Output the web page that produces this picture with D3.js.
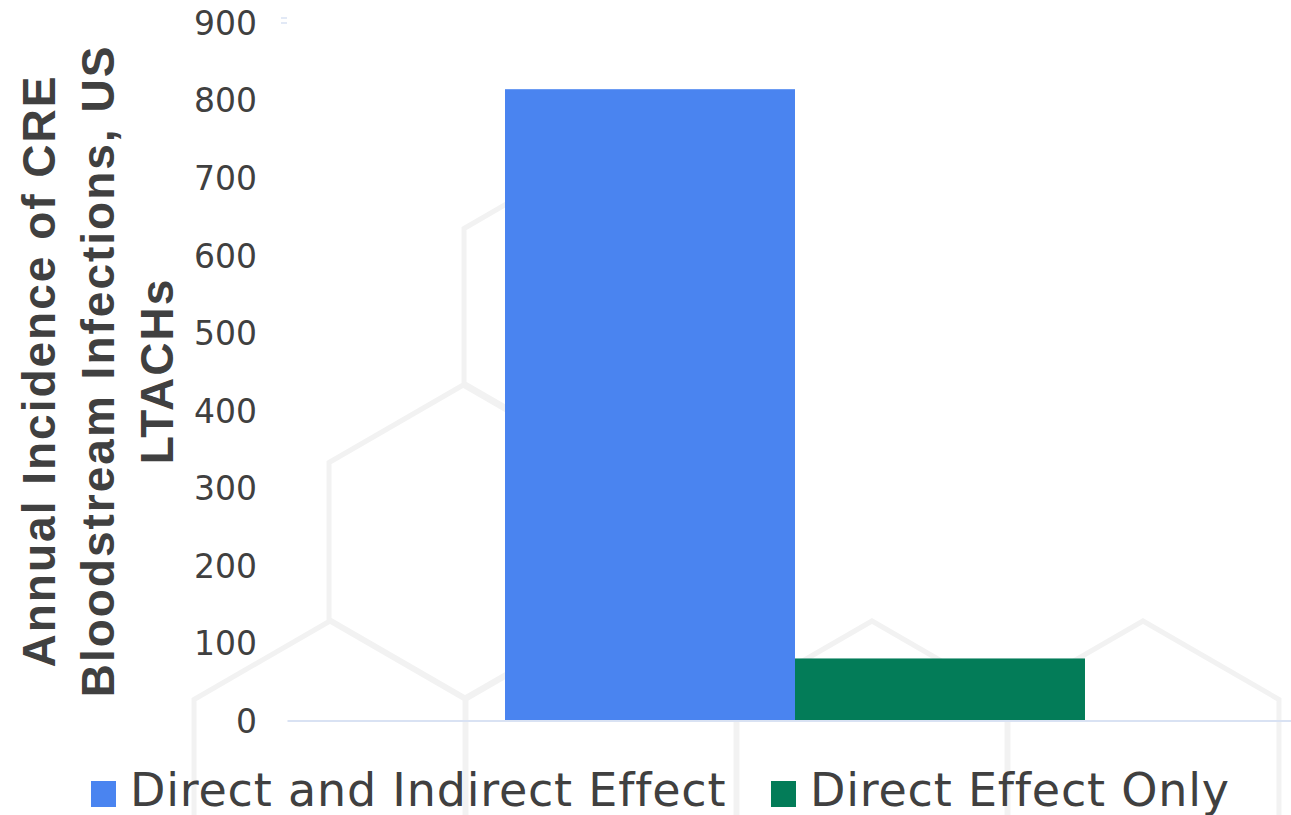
<!DOCTYPE html>
<html>
<head>
<meta charset="utf-8">
<script src="https://cdn.jsdelivr.net/npm/d3@7"></script>
<style>
  html, body { margin: 0; padding: 0; background: #ffffff; }
  svg { display: block; }
  .tickText { font-family: "DejaVu Sans", sans-serif; font-size: 33px; fill: #404040; }
  .axisTitle { font-family: "Liberation Sans", Arial, sans-serif; font-size: 46px; font-weight: bold; fill: #404040; letter-spacing: 2px; }
  .legendText { font-family: "DejaVu Sans", sans-serif; font-size: 46px; fill: #404040; letter-spacing: 0.8px; }
</style>
</head>
<body>
<div id="chart"></div>
<script>
// Chart data.
var categories = ["US LTACHs"];
var seriesNames = ["Direct and Indirect Effect", "Direct Effect Only"];
var seriesValues = [814, 80];
var seriesColors = ["#4a84f0", "#037c58"];
var yTicks = [0, 100, 200, 300, 400, 500, 600, 700, 800, 900];
var titleLines = ["Annual Incidence of CRE", "Bloodstream Infections, US", "LTACHs"];

// Define SVG area dimensions as the size of the window.
var svgWidth = 1291;
var svgHeight = 815;

// Plot area edges (the right one runs off the picture).
var plot = { left: 287, right: 1303, top: 22.5, bottom: 720.5 };

var svg = d3.select("#chart").append("svg")
  .attr("width", svgWidth)
  .attr("height", svgHeight);

// Faint honeycomb drawn behind the chart.
var hexSide = 157;
var hexCenters = [[600, 307], [465, 541], [330, 778], [601, 778], [872, 778], [1143, 778]];
function hexPath(c) {
  var pts = d3.range(6).map(function(i) {
    var a = Math.PI / 3 * i - Math.PI / 2;
    return [c[0] + hexSide * Math.cos(a), c[1] + hexSide * Math.sin(a)];
  });
  return d3.line()(pts) + "Z";
}
svg.append("g")
  .selectAll("path")
  .data(hexCenters)
  .enter()
  .append("path")
  .attr("d", hexPath)
  .attr("fill", "none")
  .attr("stroke", "#f2f2f2")
  .attr("stroke-width", 5);

// Scales
var yScale = d3.scaleLinear()
  .domain([0, 900])
  .range([plot.bottom, plot.top]);

var x0Scale = d3.scaleBand()
  .domain(categories)
  .range([plot.left, plot.right])
  .paddingInner(0)
  .paddingOuter(0.3759);

var x1Scale = d3.scaleBand()
  .domain(seriesNames)
  .range([0, x0Scale.bandwidth()])
  .padding(0);

// Y axis: labels only, no line or ticks
var yAxis = d3.axisLeft(yScale).tickValues(yTicks).tickSize(0).tickPadding(0);
var yAxisGroup = svg.append("g")
  .attr("transform", "translate(257,0)")
  .call(yAxis);
yAxisGroup.select(".domain").remove();
yAxisGroup.selectAll("text")
  .attr("class", "tickText")
  .attr("font-family", null)
  .attr("font-size", null)
  .attr("fill", null)
  .attr("dy", "0.36em");

// the little light mark right of the top label
svg.append("g")
  .selectAll("line")
  .data([-2.5, 2.5])
  .enter()
  .append("line")
  .attr("x1", 281)
  .attr("x2", 287)
  .attr("y1", d => yScale(900) + d - 2)
  .attr("y2", d => yScale(900) + d - 2)
  .attr("stroke", "#d9e2f3")
  .attr("stroke-width", 1.5);

// Bars
var barData = seriesNames.map(function(name, i) {
  return { cat: categories[0], name: name, value: seriesValues[i], color: seriesColors[i] };
});

svg.append("g")
  .selectAll("rect")
  .data(barData)
  .enter()
  .append("rect")
  .attr("x", d => x0Scale(d.cat) + x1Scale(d.name))
  .attr("y", d => yScale(d.value))
  .attr("width", x1Scale.bandwidth())
  .attr("height", d => yScale(0) - yScale(d.value))
  .attr("fill", d => d.color);

// Baseline along zero
var xAxis = d3.axisBottom(x0Scale).tickSize(0).tickFormat("");
var xAxisGroup = svg.append("g")
  .attr("transform", `translate(0,${yScale(0)})`)
  .call(xAxis);
xAxisGroup.select(".domain")
  .attr("stroke", "#d9e2f3")
  .attr("stroke-width", 2);

// Y axis title, three lines rotated
var title = svg.append("text")
  .attr("class", "axisTitle")
  .attr("text-anchor", "middle")
  .attr("transform", "translate(0,371) rotate(-90)");
title.selectAll("tspan")
  .data(titleLines)
  .enter()
  .append("tspan")
  .attr("x", 0)
  .attr("y", (d, i) => 55 + i * 59)
  .text(d => d);

// Legend
var legendX = [91, 771];
var legend = svg.append("g")
  .selectAll("g")
  .data(barData)
  .enter()
  .append("g")
  .attr("transform", (d, i) => `translate(${legendX[i]},781)`);

legend.append("rect")
  .attr("width", 25)
  .attr("height", 26)
  .attr("fill", d => d.color);

legend.append("text")
  .attr("class", "legendText")
  .attr("x", 39)
  .attr("y", 25)
  .text(d => d.name);
</script>
</body>
</html>
